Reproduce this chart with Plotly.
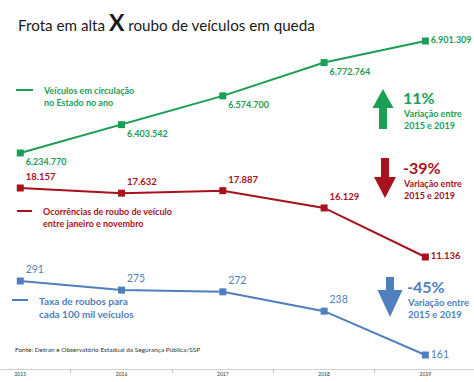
import plotly.graph_objects as go

years = [2015, 2016, 2017, 2018, 2019]
frota = [6234770, 6403542, 6574700, 6772764, 6901309]
frota_labels = ["6.234.770", "6.403.542", "6.574.700", "6.772.764", "6.901.309"]
roubos = [18157, 17632, 17887, 16129, 11136]
roubos_labels = ["18.157", "17.632", "17.887", "16.129", "11.136"]
taxa = [291, 275, 272, 238, 161]
taxa_labels = ["291", "275", "272", "238", "161"]
tick_labels = ["2015", "2016", "2017", "2018", "2019"]

GREEN = "#1b9e55"
RED = "#a8121c"
BLUE = "#4f7fbd"
FONT = "Lato"

W, H = 474, 382
PLOT_H = 369  # plot area height in px (top margin 0)


def px_x(px):
    return px / W


def px_y(py):
    return 1 - py / PLOT_H


fig = go.Figure()

fig.add_trace(go.Scatter(
    x=years, y=frota, yaxis="y", mode="lines+markers+text",
    line=dict(color=GREEN, width=2), marker=dict(symbol="square", size=7, color=GREEN),
    text=frota_labels,
    textposition=["bottom right"] * 4 + ["middle right"],
    textfont=dict(color=GREEN, size=9, family=FONT, weight="bold"),
    cliponaxis=False, hoverinfo="skip"))

fig.add_trace(go.Scatter(
    x=years, y=roubos, yaxis="y2", mode="lines+markers+text",
    line=dict(color=RED, width=2), marker=dict(symbol="square", size=7, color=RED),
    text=roubos_labels,
    textposition=["top right"] * 4 + ["middle right"],
    textfont=dict(color=RED, size=9.5, family=FONT, weight="bold"),
    cliponaxis=False, hoverinfo="skip"))

fig.add_trace(go.Scatter(
    x=years, y=taxa, yaxis="y3", mode="lines+markers+text",
    line=dict(color=BLUE, width=2), marker=dict(symbol="square", size=7, color=BLUE),
    text=taxa_labels,
    textposition=["top right"] * 4 + ["middle right"],
    textfont=dict(color=BLUE, size=10.5, family=FONT),
    cliponaxis=False, hoverinfo="skip"))

ann = []
shapes = []

ann.append(dict(x=px_x(16), y=px_y(22), xref="paper", yref="paper", xanchor="left", yanchor="middle",
                showarrow=False,
                text="Frota em alta <b><span style='font-size:23px'>X</span></b> roubo de veículos em queda",
                font=dict(size=15.2, color="#1a1a1a", family=FONT)))


def legend(x0, x1, ly, tx, lines, color, size, weight="bold"):
    shapes.append(dict(type="line", xref="paper", yref="paper",
                       x0=px_x(x0), x1=px_x(x1), y0=px_y(ly), y1=px_y(ly),
                       line=dict(color=color, width=2)))
    ann.append(dict(x=px_x(tx), y=px_y(ly - 7), xref="paper", yref="paper",
                    xanchor="left", yanchor="top", align="left", showarrow=False,
                    text="<br>".join(lines), font=dict(size=size, color=color, family=FONT, weight=weight)))

legend(16, 33, 90, 41, ["Veículos em circulação", "no Estado no ano"], GREEN, 9)
legend(17, 32, 211, 41, ["Ocorrências de roubo de veículo", "entre janeiro e novembro"], RED, 9)
legend(12, 28, 300, 37, ["Taxa de roubos para", "cada 100 mil veículos"], BLUE, 10, "bold")


def block_arrow(cx, ytop, ybot, up, color, hw, sw, hh):
    if up:
        pts = [(cx, ytop), (cx + hw, ytop + hh), (cx + sw, ytop + hh), (cx + sw, ybot),
               (cx - sw, ybot), (cx - sw, ytop + hh), (cx - hw, ytop + hh)]
    else:
        pts = [(cx, ybot), (cx + hw, ybot - hh), (cx + sw, ybot - hh), (cx + sw, ytop),
               (cx - sw, ytop), (cx - sw, ybot - hh), (cx - hw, ybot - hh)]
    path = "M " + " L ".join(f"{px_x(x):.5f},{px_y(y):.5f}" for x, y in pts) + " Z"
    shapes.append(dict(type="path", xref="paper", yref="paper", path=path,
                       fillcolor=color, line=dict(width=0)))


def variation(tx, pct_y, pct, color, pct_size, sub_size, weight="bold"):
    ann.append(dict(x=px_x(tx), y=px_y(pct_y), xref="paper", yref="paper",
                    xanchor="left", yanchor="middle", showarrow=False,
                    text=pct, font=dict(size=pct_size, color=color, family=FONT, weight="bold")))
    ann.append(dict(x=px_x(tx), y=px_y(pct_y + 9), xref="paper", yref="paper",
                    xanchor="left", yanchor="top", align="left", showarrow=False,
                    text="Variação entre<br>2015 e 2019",
                    font=dict(size=sub_size, color=color, family=FONT, weight=weight)))

block_arrow(383, 89, 129, True, GREEN, 10.5, 4, 19)
variation(401, 97, "11%", GREEN, 16, 9)
block_arrow(385, 158, 198, False, RED, 11, 4, 21)
variation(401, 167, "-39%", RED, 16, 9)
block_arrow(390, 277, 317, False, BLUE, 12.5, 4, 27)
variation(405, 286, "-45%", BLUE, 16, 9.5)

ann.append(dict(x=px_x(13), y=px_y(349), xref="paper", yref="paper",
                xanchor="left", yanchor="middle", showarrow=False,
                text="Fonte: Detran e Observatório Estadual da Segurança Pública/SSP",
                font=dict(size=6.5, color="#333333", family=FONT)))

fig.update_layout(
    width=W, height=H,
    margin=dict(l=0, r=0, t=0, b=H - PLOT_H),
    paper_bgcolor="white", plot_bgcolor="white",
    showlegend=False,
    font=dict(family=FONT),
    xaxis=dict(range=[2014.8, 2019.48], tickvals=years, ticktext=tick_labels,
               ticks="", showgrid=False, zeroline=False, showline=True,
               linecolor="#d0d0d0", linewidth=1,
               tickfont=dict(size=5, color="#333333"),
               minor=dict(tickvals=[2015.5, 2016.5, 2017.5, 2018.5], ticks="outside",
                          ticklen=3, tickcolor="#bbbbbb", showgrid=False),
               fixedrange=True),
    yaxis=dict(range=[4949116, 7145300], visible=False, fixedrange=True),
    yaxis2=dict(range=[-259, 37286], visible=False, overlaying="y", fixedrange=True),
    yaxis3=dict(range=[136.4, 784.8], visible=False, overlaying="y", fixedrange=True),
    annotations=ann, shapes=shapes,
)

fig.write_html("out.html", config={"displayModeBar": False},
               post_script="document.body.style.margin='0';document.body.style.overflow='hidden';")
